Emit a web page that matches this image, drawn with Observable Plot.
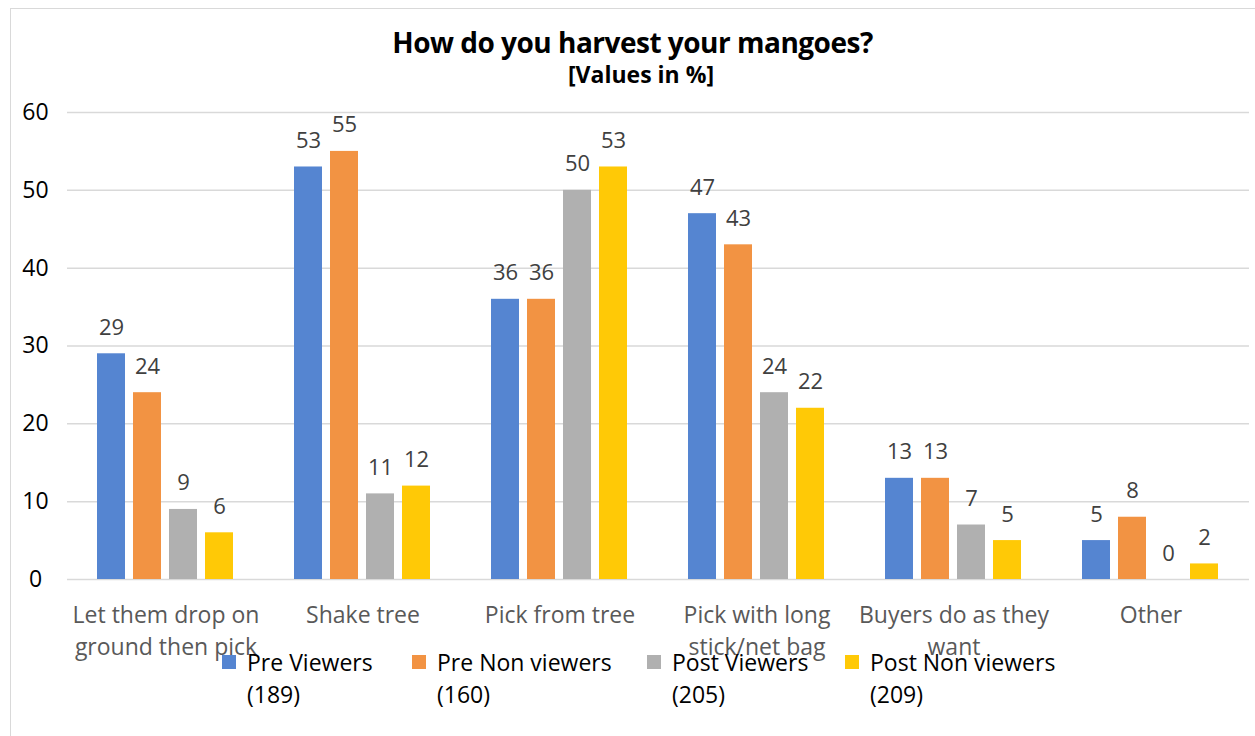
<!DOCTYPE html>
<html>
<head>
<meta charset="utf-8">
<script src="https://cdn.jsdelivr.net/npm/d3@7"></script>
<script src="https://cdn.jsdelivr.net/npm/@observablehq/plot@0.6"></script>
<style>
  html, body { margin: 0; padding: 0; background: #fff; }
  #wrap { position: relative; width: 1255px; height: 736px; overflow: hidden; font-family: "Open Sans", sans-serif; }
  #frame { position: absolute; left: 10px; top: 8px; width: 1260px; height: 740px; border: 1.5px solid #d9d9d9; box-sizing: border-box; }
  #title { position: absolute; left: 0; width: 1265px; top: 25px; text-align: center; font-weight: bold; color: #000; font-size: 28px; line-height: 34px; letter-spacing: -0.5px; }
  #subtitle { position: absolute; left: 0; width: 1282px; top: 59px; text-align: center; font-weight: bold; color: #000; font-size: 23px; line-height: 30px; letter-spacing: 0px; }
  #chart { position: absolute; left: 0; top: 0; }
  #legend { position: absolute; top: 646px; left: 0; width: 1255px; height: 80px; }
  .item { position: absolute; top: 0; font-size: 23px; line-height: 32px; color: #000; }
  .sw { position: absolute; width: 14px; height: 14px; left: -25px; top: 9px; }
</style>
</head>
<body>
<div id="wrap">
  <div id="frame"></div>
  <div id="title">How do you harvest your mangoes?</div>
  <div id="subtitle">[Values in %]</div>
  <div id="chart"></div>
  <div id="legend"></div>
</div>
<script>
const categories = ["Let them drop on ground then pick", "Shake tree", "Pick from tree", "Pick with long stick/net bag", "Buyers do as they want", "Other"];
const categoryLines = [["Let them drop on", "ground then pick"], ["Shake tree"], ["Pick from tree"], ["Pick with long", "stick/net bag"], ["Buyers do as they", "want"], ["Other"]];
const seriesNames = ["Pre Viewers", "Pre Non viewers", "Post Viewers", "Post Non viewers"];
const seriesCounts = ["(189)", "(160)", "(205)", "(209)"];
const colors = ["#5585d1", "#f29343", "#b0b0b0", "#ffc906"];
const preViewers = [29, 53, 36, 47, 13, 5];
const preNonViewers = [24, 55, 36, 43, 13, 8];
const postViewers = [9, 11, 50, 24, 7, 0];
const postNonViewers = [6, 12, 53, 22, 5, 2];
const yTicks = [0, 10, 20, 30, 40, 50, 60];

const seriesValues = [preViewers, preNonViewers, postViewers, postNonViewers];
const data = [];
categories.forEach((c, i) => {
  seriesNames.forEach((s, j) => data.push({category: c, series: s, value: seriesValues[j][i]}));
});

const lineMap = new Map(categories.map((c, i) => [c, categoryLines[i]]));

const plot = Plot.plot({
  width: 1255,
  height: 700,
  marginTop: 112,
  marginBottom: 121,
  marginLeft: 67,
  marginRight: 6,
  style: { fontFamily: "Open Sans, sans-serif", background: "transparent", overflow: "visible" },
  fx: { domain: categories, padding: 0, label: null, axis: null },
  x: { domain: seriesNames, paddingInner: 0.222, paddingOuter: 0.846, axis: null },
  y: { domain: [0, 60], ticks: yTicks, label: null, axis: null },
  color: { domain: seriesNames, range: colors },
  marks: [
    Plot.gridY(yTicks, { stroke: "#d9d9d9", strokeOpacity: 1, strokeWidth: 1.5 }),
    Plot.barY(data, { fx: "category", x: "series", y: "value", fill: "series" }),
    Plot.text(data, { fx: "category", x: "series", y: "value", text: d => String(d.value), dy: -26, fill: "#404040", fontSize: 22 }),
    Plot.axisY(yTicks, { tickSize: 0, tickPadding: 22, fontSize: 23, fill: "#000", label: null, textAnchor: "middle", dx: -10 }),
    Plot.axisFx({ anchor: "bottom", tickSize: 0, label: null, fontSize: 23, fill: "#595959", tickPadding: 21,
      tickFormat: c => lineMap.get(c).join("\n"), lineHeight: 1.38 })
  ]
});
document.getElementById("chart").appendChild(plot);

const legendX = [247, 437, 672, 870];
const legend = document.getElementById("legend");
seriesNames.forEach((s, i) => {
  const item = document.createElement("div");
  item.className = "item";
  item.style.left = legendX[i] + "px";
  item.innerHTML = `<span class="sw" style="background:${colors[i]}"></span>${s}<br>${seriesCounts[i]}`;
  legend.appendChild(item);
});
</script>
</body>
</html>
